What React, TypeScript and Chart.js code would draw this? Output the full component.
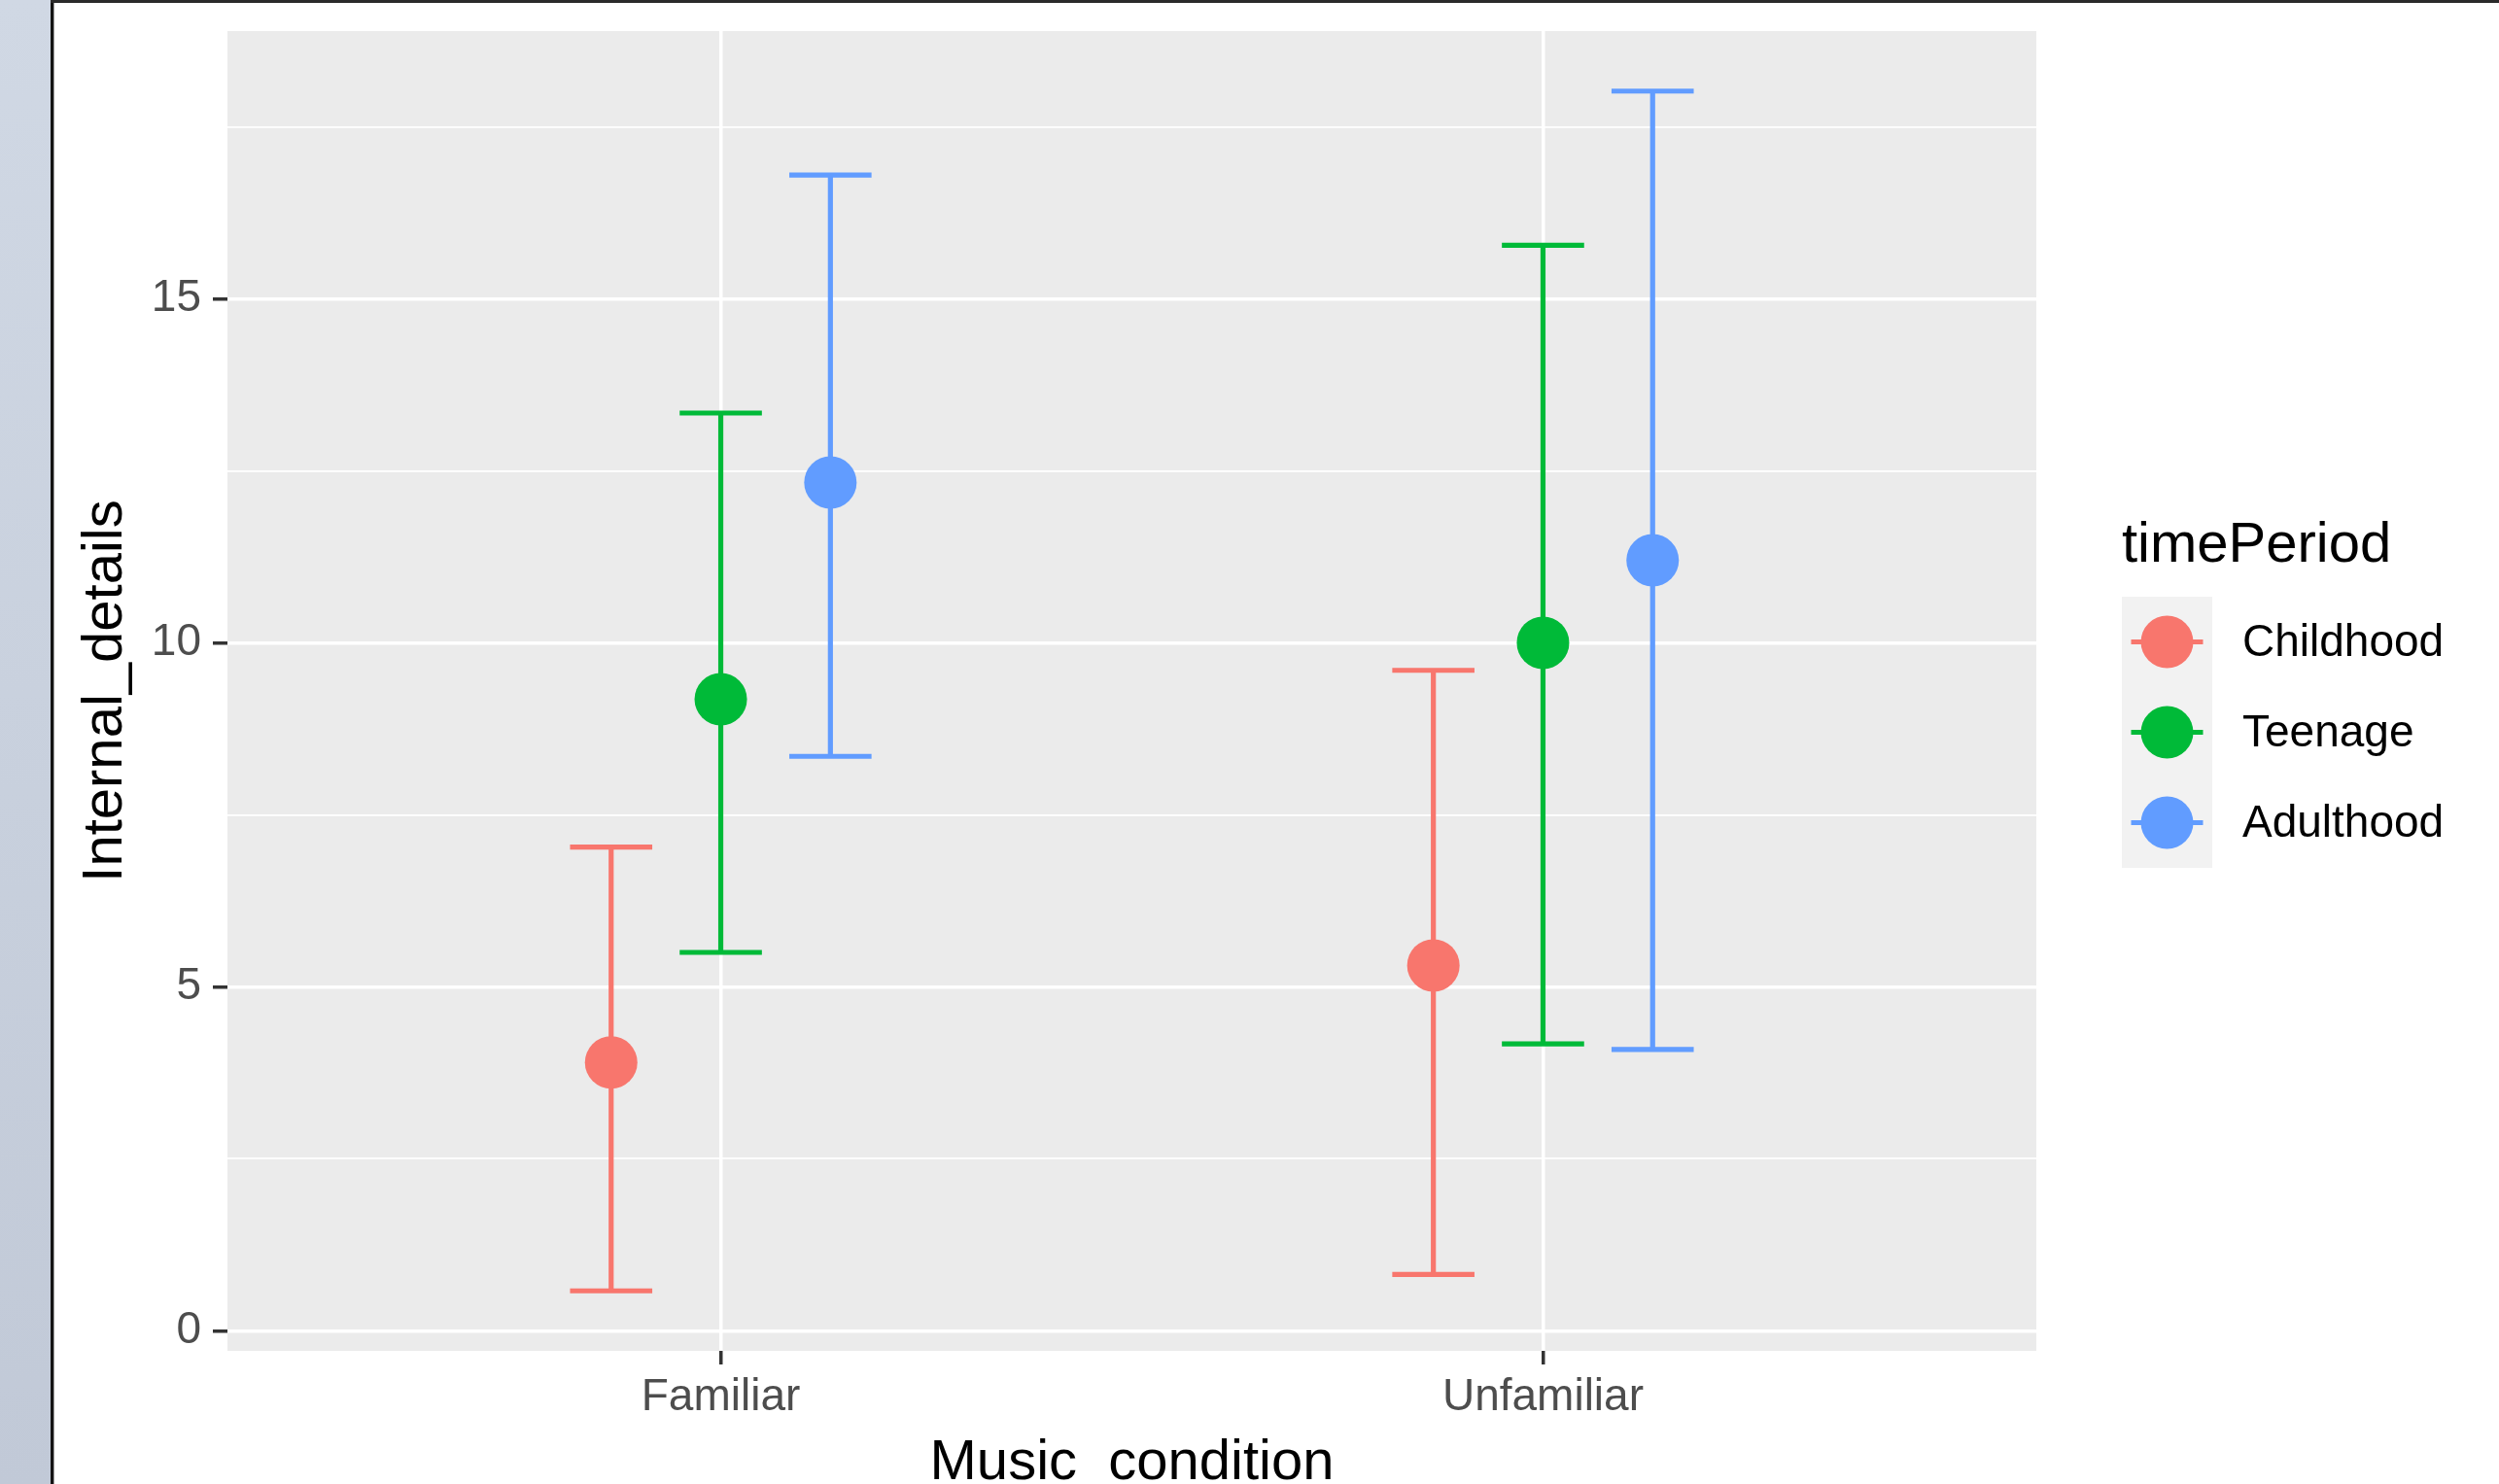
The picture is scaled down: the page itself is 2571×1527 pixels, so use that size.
import React, { useEffect, useRef } from "react";
import { Chart, registerables } from "chart.js";

Chart.register(...registerables);

// ---------- data ----------
const CATEGORIES = ["Familiar", "Unfamiliar"];
const SERIES = ["Childhood", "Teenage", "Adulthood"];
const COLORS = ["#F8766D", "#00BA38", "#619CFF"];

const CHILDHOOD_MEAN = [3.9, 5.31];
const CHILDHOOD_LOW = [0.58, 0.82];
const CHILDHOOD_HIGH = [7.03, 9.6];

const TEENAGE_MEAN = [9.18, 10.0];
const TEENAGE_LOW = [5.5, 4.17];
const TEENAGE_HIGH = [13.34, 15.78];

const ADULTHOOD_MEAN = [12.33, 11.2];
const ADULTHOOD_LOW = [8.35, 4.09];
const ADULTHOOD_HIGH = [16.8, 18.02];

const Y_MAJOR_TICKS = [0, 5, 10, 15];
const Y_MINOR_TICKS = [2.5, 7.5, 12.5, 17.5];

const X_TITLE = "Music_condition";
const Y_TITLE = "Internal_details";
const LEGEND_TITLE = "timePeriod";

// ---------- layout / style parameters ----------
const DODGE_WIDTH = 0.4;
const ERRORBAR_WIDTH = 0.1;
const FONT = '"Liberation Sans", Arial, Helvetica, sans-serif';

const MEANS = [CHILDHOOD_MEAN, TEENAGE_MEAN, ADULTHOOD_MEAN];
const LOWS = [CHILDHOOD_LOW, TEENAGE_LOW, ADULTHOOD_LOW];
const HIGHS = [CHILDHOOD_HIGH, TEENAGE_HIGH, ADULTHOOD_HIGH];

const allLow = Math.min(...LOWS.flat());
const allHigh = Math.max(...HIGHS.flat());
const ySpan = allHigh - allLow;
const Y_MIN = allLow - ySpan * 0.05;
const Y_MAX = allHigh + ySpan * 0.05;
const X_MIN = 1 - 0.6;
const X_MAX = CATEGORIES.length + 0.6;

const dodgeOffset = (i: number) => (i - (SERIES.length - 1) / 2) * (DODGE_WIDTH / SERIES.length);

const panelPlugin = {
  id: "ggPanel",
  beforeDraw(chart: any) {
    const { ctx, chartArea } = chart;
    ctx.save();
    ctx.fillStyle = "#EBEBEB";
    ctx.fillRect(chartArea.left, chartArea.top, chartArea.right - chartArea.left, chartArea.bottom - chartArea.top);
    ctx.restore();
  },
};

const errorBarPlugin = {
  id: "ggErrorBars",
  beforeDatasetsDraw(chart: any) {
    const { ctx } = chart;
    const xs = chart.scales.x;
    const ys = chart.scales.y;
    ctx.save();
    ctx.lineWidth = 5.2;
    ctx.lineCap = "butt";
    chart.data.datasets.forEach((ds: any) => {
      ctx.strokeStyle = ds.backgroundColor;
      ds.data.forEach((pt: any, j: number) => {
        const x = xs.getPixelForValue(pt.x);
        const xl = xs.getPixelForValue(pt.x - ERRORBAR_WIDTH / 2);
        const xr = xs.getPixelForValue(pt.x + ERRORBAR_WIDTH / 2);
        const yl = ys.getPixelForValue(ds.errLow[j]);
        const yh = ys.getPixelForValue(ds.errHigh[j]);
        ctx.beginPath();
        ctx.moveTo(x, yl);
        ctx.lineTo(x, yh);
        ctx.moveTo(xl, yl);
        ctx.lineTo(xr, yl);
        ctx.moveTo(xl, yh);
        ctx.lineTo(xr, yh);
        ctx.stroke();
      });
    });
    ctx.restore();
  },
};

const legendPlugin = {
  id: "ggLegend",
  afterDraw(chart: any) {
    const { ctx, chartArea } = chart;
    const x0 = chartArea.right + 88;
    const keySize = 93;
    const keysTop = 614;
    ctx.save();
    ctx.fillStyle = "#000000";
    ctx.font = `58px ${FONT}`;
    ctx.textBaseline = "alphabetic";
    ctx.textAlign = "left";
    ctx.fillText(LEGEND_TITLE, x0, 578);
    chart.data.datasets.forEach((ds: any, i: number) => {
      const top = keysTop + i * keySize;
      ctx.fillStyle = "#F2F2F2";
      ctx.fillRect(x0, top, keySize, keySize);
      const cx = x0 + keySize / 2;
      const cy = top + keySize / 2;
      ctx.strokeStyle = ds.backgroundColor;
      ctx.lineWidth = 5;
      ctx.beginPath();
      ctx.moveTo(cx - 37, cy);
      ctx.lineTo(cx + 37, cy);
      ctx.stroke();
      ctx.fillStyle = ds.backgroundColor;
      ctx.beginPath();
      ctx.arc(cx, cy, 27, 0, Math.PI * 2);
      ctx.fill();
      ctx.fillStyle = "#000000";
      ctx.font = `46px ${FONT}`;
      ctx.textBaseline = "middle";
      ctx.fillText(ds.label, x0 + 124, cy + 2);
    });
    ctx.restore();
  },
};

export default function App() {
  const canvasRef = useRef<HTMLCanvasElement | null>(null);

  useEffect(() => {
    if (!canvasRef.current) return;
    const datasets = SERIES.map((name, i) => ({
      label: name,
      data: CATEGORIES.map((_, j) => ({ x: j + 1 + dodgeOffset(i), y: MEANS[i][j] })),
      errLow: LOWS[i],
      errHigh: HIGHS[i],
      backgroundColor: COLORS[i],
      borderColor: COLORS[i],
      borderWidth: 0,
      pointRadius: 27,
      pointHoverRadius: 27,
      showLine: false,
    }));

    const isMajor = (ctx: any) => Y_MAJOR_TICKS.includes(ctx?.tick?.value);

    const chart = new Chart(canvasRef.current, {
      type: "scatter",
      data: { datasets: datasets as any },
      options: {
        animation: false,
        responsive: false,
        devicePixelRatio: 1,
        events: [],
        layout: { padding: { left: 0, top: 32, right: 476, bottom: 0 } },
        plugins: {
          legend: { display: false },
          tooltip: { enabled: false },
        },
        scales: {
          x: {
            type: "linear",
            min: X_MIN,
            max: X_MAX,
            afterBuildTicks: (scale: any) => {
              scale.ticks = CATEGORIES.map((_, j) => ({ value: j + 1 }));
            },
            afterFit: (scale: any) => {
              scale.height = 137;
              scale.paddingLeft = 0;
              scale.paddingRight = 0;
            },
            ticks: {
              callback: (v: any) => CATEGORIES[Math.round(Number(v)) - 1],
              font: { family: FONT, size: 46 },
              color: "#4D4D4D",
              padding: 7,
              maxRotation: 0,
              minRotation: 0,
              autoSkip: false,
            },
            grid: {
              color: "#FFFFFF",
              lineWidth: 3.5,
              drawTicks: true,
              tickLength: 14,
              tickColor: "#333333",
              tickWidth: 3.5,
            },
            border: { display: false },
            title: {
              display: true,
              text: X_TITLE,
              color: "#000000",
              font: { family: FONT, size: 58, lineHeight: 1 },
              padding: { top: 0, bottom: -8 },
            },
          },
          y: {
            type: "linear",
            min: Y_MIN,
            max: Y_MAX,
            afterBuildTicks: (scale: any) => {
              scale.ticks = [...Y_MAJOR_TICKS, ...Y_MINOR_TICKS]
                .sort((a, b) => a - b)
                .map((v) => ({ value: v }));
            },
            afterFit: (scale: any) => {
              scale.width = 234;
              scale.paddingTop = 0;
              scale.paddingBottom = 0;
            },
            ticks: {
              callback: (v: any) => (Y_MAJOR_TICKS.includes(Number(v)) ? String(v) : ""),
              font: { family: FONT, size: 46 },
              color: "#4D4D4D",
              padding: 12,
            },
            grid: {
              color: "#FFFFFF",
              lineWidth: (ctx: any) => (isMajor(ctx) ? 3.5 : 1.8),
              drawTicks: true,
              tickLength: 15,
              tickColor: (ctx: any) => (isMajor(ctx) ? "#333333" : "rgba(0,0,0,0)"),
              tickWidth: 3.5,
            },
            border: { display: false },
            title: {
              display: true,
              text: Y_TITLE,
              color: "#000000",
              font: { family: FONT, size: 58, lineHeight: 1 },
              padding: { top: 80, bottom: 0 },
            },
          },
        },
      } as any,
      plugins: [panelPlugin, errorBarPlugin, legendPlugin],
    });
    return () => chart.destroy();
  }, []);

  return (
    <div
      style={{
        position: "fixed",
        left: 0,
        top: 0,
        width: 2571,
        height: 1527,
        background: "#FFFFFF",
        overflow: "hidden",
      }}
    >
      <canvas
        ref={canvasRef}
        width={2571}
        height={1527}
        style={{ position: "absolute", left: 0, top: 0, width: 2571, height: 1527, display: "block" }}
      />
      <div
        style={{
          position: "absolute",
          left: 0,
          top: 0,
          width: 52,
          height: 1527,
          background: "linear-gradient(to bottom, #D0D8E4, #C1C9D7)",
        }}
      />
      <div style={{ position: "absolute", left: 52, top: 0, width: 3, height: 1527, background: "#141414" }} />
      <div style={{ position: "absolute", left: 55, top: 0, width: 1, height: 1527, background: "#9A9A9A" }} />
      <div style={{ position: "absolute", left: 52, top: 0, width: 2519, height: 3, background: "#2A2A2A" }} />
    </div>
  );
}
